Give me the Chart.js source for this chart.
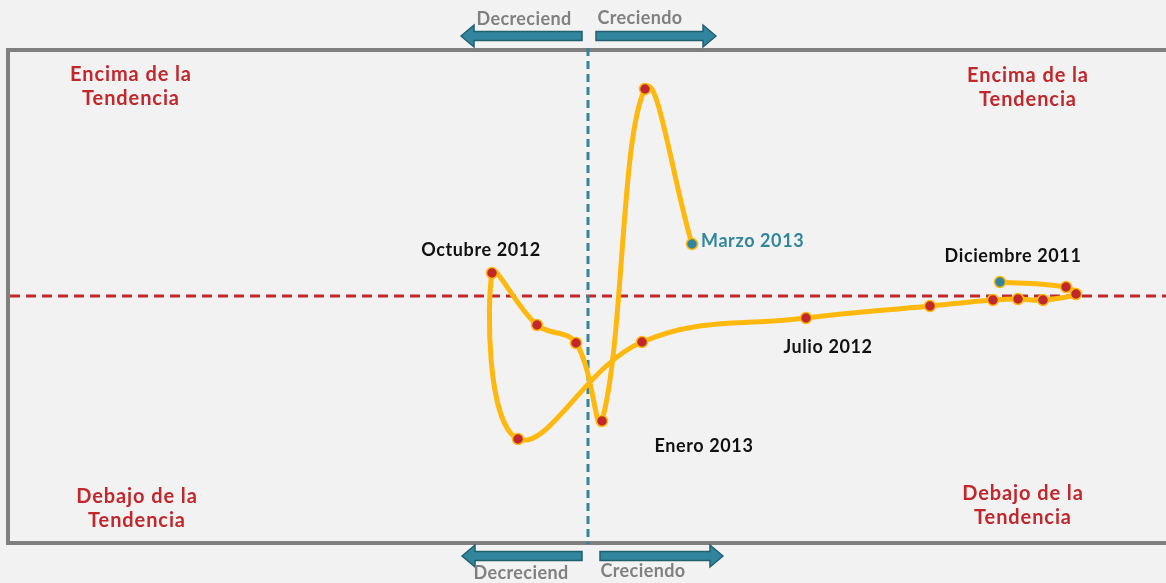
<!DOCTYPE html>
<html lang="es">
<head>
  <meta charset="UTF-8">
  <title>Tendencia</title>
  <script src="https://cdn.jsdelivr.net/npm/chart.js"></script>
  <style>
    html, body {
      margin: 0;
      overflow: hidden;
      background: #f2f2f2;
    }
    .container {
      width: 1166px;
      height: 583px;
      position: relative;
    }
    canvas {
      display: block;
    }
  </style>
</head>
<body>
  <div class="container">
    <canvas id="trendChart"></canvas>
  </div>

  <script>
    // months from Dic 2011 to Mar 2013, position vs. growth (x) and trend (y)
    const months = ['Dic 2011', 'Ene 2012', 'Feb 2012', 'Mar 2012', 'Abr 2012', 'May 2012', 'Jun 2012', 'Jul 2012',
                    'Ago 2012', 'Sep 2012', 'Oct 2012', 'Nov 2012', 'Dic 2012', 'Ene 2013', 'Feb 2013', 'Mar 2013'];
    const growth = [41.2, 47.8, 48.8, 45.5, 43.0, 40.5, 34.2, 21.8, 5.4, -7.0, -9.6, -5.1, -1.2, 1.4, 5.7, 10.4];
    const trend = [1.4, 0.9, 0.2, -0.4, -0.3, -0.4, -1.0, -2.2, -4.6, -14.3, 2.3, -2.9, -4.7, -12.5, 20.7, 5.2];
    const labelled = { 0: 'Diciembre 2011', 7: 'Julio 2012', 10: 'Octubre 2012', 13: 'Enero 2013', 15: 'Marzo 2013' };

    const quadrants = [['Encima de la', 'Tendencia'], ['Debajo de la', 'Tendencia']];
    const arrowText = ['Decreciend', 'Creciendo'];

    const RED = '#c0282d';
    const TEAL = '#31869b';
    const FONT = 'Lato, "Open Sans", sans-serif';

    const points = growth.map((x, i) => ({ x: x, y: trend[i] }));
    const endColor = (i) => (i === 0 || i === points.length - 1) ? TEAL : RED;

    function drawArrow(ctx, tipX, endX, y) {
      const dir = endX > tipX ? 1 : -1;
      const head = 13;
      ctx.beginPath();
      ctx.moveTo(tipX, y);
      ctx.lineTo(tipX + dir * head, y - 11);
      ctx.lineTo(tipX + dir * head, y - 4.5);
      ctx.lineTo(endX, y - 4.5);
      ctx.lineTo(endX, y + 4.5);
      ctx.lineTo(tipX + dir * head, y + 4.5);
      ctx.lineTo(tipX + dir * head, y + 11);
      ctx.closePath();
      ctx.fillStyle = '#31859c';
      ctx.fill();
      ctx.strokeStyle = '#215f70';
      ctx.lineWidth = 1.5;
      ctx.stroke();
    }

    const backdrop = {
      id: 'backdrop',
      beforeDatasetsDraw(chart) {
        const { ctx, chartArea: a, scales } = chart;
        const x0 = scales.x.getPixelForValue(0);
        const y0 = scales.y.getPixelForValue(0);
        ctx.save();

        // box
        ctx.strokeStyle = '#7f7f7f';
        ctx.lineWidth = 4;
        ctx.strokeRect(a.left, a.top, a.right - a.left + 20, a.bottom - a.top);

        // reference lines
        ctx.setLineDash([10, 6]);
        ctx.strokeStyle = RED;
        ctx.lineWidth = 3;
        ctx.beginPath();
        ctx.moveTo(a.left + 2, y0);
        ctx.lineTo(a.right, y0);
        ctx.stroke();

        ctx.setLineDash([8, 5]);
        ctx.strokeStyle = TEAL;
        ctx.beginPath();
        ctx.moveTo(x0, a.top - 2);
        ctx.lineTo(x0, a.bottom + 1);
        ctx.stroke();
        ctx.setLineDash([]);

        // arrows above and below the box
        drawArrow(ctx, x0 - 127, x0 - 6, a.top - 14);
        drawArrow(ctx, x0 + 128, x0 + 8, a.top - 14);
        drawArrow(ctx, x0 - 126, x0 - 6, a.bottom + 13);
        drawArrow(ctx, x0 + 135, x0 + 12, a.bottom + 13);

        ctx.font = 'bold 18px ' + FONT;
        ctx.letterSpacing = '0.4px';
        ctx.fillStyle = '#808080';
        ctx.textAlign = 'center';
        ctx.textBaseline = 'middle';
        ctx.fillText(arrowText[0], x0 - 64, a.top - 31);
        ctx.fillText(arrowText[1], x0 + 52, a.top - 32);
        ctx.fillText(arrowText[0], x0 - 67, a.bottom + 30);
        ctx.fillText(arrowText[1], x0 + 55, a.bottom + 28);

        // quadrant captions
        ctx.font = 'bold 20px ' + FONT;
        ctx.letterSpacing = '0.9px';
        ctx.fillStyle = RED;
        const spots = [[131, 75, 0], [1028, 76, 0], [137, 497, 1], [1023, 494, 1]];
        spots.forEach(([x, y, q]) => {
          ctx.fillText(quadrants[q][0], x, y);
          ctx.fillText(quadrants[q][1], x, y + 24);
        });
        ctx.restore();
      },
      afterDatasetsDraw(chart) {
        const { ctx } = chart;
        const meta = chart.getDatasetMeta(0);
        const offsets = { 0: [13, -26, 'center'], 7: [22, 29, 'center'], 10: [-11, -23, 'center'],
                          13: [102, 25, 'center'], 15: [9, -3, 'left'] };
        ctx.save();
        ctx.font = 'bold 18px ' + FONT;
        ctx.letterSpacing = '0.6px';
        ctx.textBaseline = 'middle';
        Object.keys(labelled).forEach(k => {
          const el = meta.data[k];
          const [dx, dy, align] = offsets[k];
          ctx.textAlign = align;
          ctx.fillStyle = Number(k) === points.length - 1 ? TEAL : '#111';
          ctx.fillText(labelled[k], el.x + dx, el.y + dy);
        });
        ctx.restore();
      }
    };

    const ctx = document.getElementById('trendChart').getContext('2d');
    new Chart(ctx, {
      type: 'scatter',
      data: {
        datasets: [{
          label: 'Tendencia',
          data: points,
          showLine: true,
          tension: 0.4,
          borderColor: '#ffb80d',
          borderWidth: 5,
          pointRadius: 5.5,
          pointBorderWidth: 1.5,
          pointBackgroundColor: points.map((p, i) => endColor(i)),
          pointBorderColor: '#ffb80d'
        }]
      },
      options: {
        responsive: true,
        maintainAspectRatio: false,
        animation: false,
        layout: { autoPadding: false, padding: { left: 8, top: 50, right: 0, bottom: 40 } },
        plugins: {
          legend: { display: false },
          tooltip: { enabled: false }
        },
        scales: {
          x: { type: 'linear', min: -58, max: 57.8, display: false },
          y: { type: 'linear', min: -24.7, max: 24.6, display: false }
        }
      },
      plugins: [backdrop]
    });
  </script>
</body>
</html>
